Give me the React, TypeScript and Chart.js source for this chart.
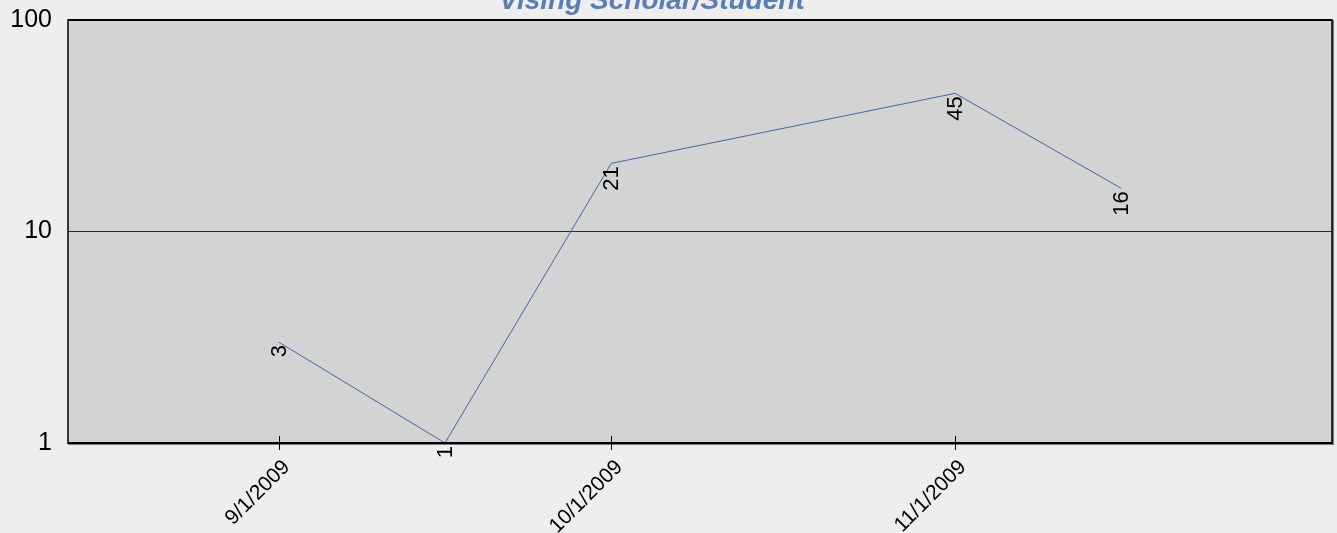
import React, { useEffect, useRef } from "react";
import { Chart, registerables } from "chart.js";

Chart.register(...registerables);

const titleText = "Vising Scholar/Student";
const pointDates = ["9/1/2009", "9/16/2009", "10/1/2009", "11/1/2009", "11/16/2009"];
const pointValues = [3, 1, 21, 45, 16];
const xTickDates = ["9/1/2009", "10/1/2009", "11/1/2009"];
const xRangeDates = ["8/13/2009", "12/5/2009"];
const yTickValues = [1, 10, 100];
const baseDate = "9/1/2009";

function parseDate(s: string): number {
  const [m, d, y] = s.split("/").map(Number);
  return Date.UTC(y, m - 1, d);
}
function dayOffset(s: string): number {
  return Math.round((parseDate(s) - parseDate(baseDate)) / 86400000);
}

const FONT = "'Liberation Sans', Arial, sans-serif";

const decorPlugin = {
  id: "decor",
  beforeDraw(chart: any) {
    const { ctx, chartArea: a, width, height } = chart;
    ctx.save();
    ctx.fillStyle = "#eeeeee";
    ctx.fillRect(0, 0, width, height);
    ctx.fillStyle = "#d3d3d3";
    ctx.fillRect(a.left, a.top, a.right - a.left, a.bottom - a.top);
    ctx.restore();
  },
  afterDraw(chart: any) {
    const { ctx, chartArea: a } = chart;
    const xs = chart.scales.x;
    const ys = chart.scales.y;
    ctx.save();
    // right / bottom shadow
    ctx.fillStyle = "#777777";
    ctx.fillRect(a.right, a.top, 2, a.bottom - a.top + 2);
    ctx.fillRect(a.left, a.bottom + 1, a.right - a.left + 2, 1);
    // borders
    ctx.strokeStyle = "#000000";
    ctx.lineWidth = 2;
    ctx.beginPath();
    ctx.moveTo(a.left, a.top);
    ctx.lineTo(a.right, a.top);
    ctx.moveTo(a.left, a.bottom);
    ctx.lineTo(a.right, a.bottom);
    ctx.stroke();
    ctx.lineWidth = 1.5;
    ctx.beginPath();
    ctx.moveTo(a.left, a.top - 1);
    ctx.lineTo(a.left, a.bottom + 1);
    ctx.moveTo(a.right, a.top - 1);
    ctx.lineTo(a.right, a.bottom + 1);
    ctx.stroke();
    // x tick marks crossing the axis
    ctx.lineWidth = 1;
    ctx.beginPath();
    xTickDates.forEach((d) => {
      const px = Math.round(xs.getPixelForValue(dayOffset(d))) + 0.5;
      ctx.moveTo(px, a.bottom - 7);
      ctx.lineTo(px, a.bottom + 7);
    });
    ctx.stroke();
    // data labels, rotated
    ctx.fillStyle = "#000000";
    ctx.font = `22px ${FONT}`;
    ctx.textAlign = "right";
    ctx.textBaseline = "middle";
    pointDates.forEach((d, i) => {
      const px = xs.getPixelForValue(dayOffset(d));
      const py = ys.getPixelForValue(pointValues[i]);
      ctx.save();
      ctx.translate(px + 1, py + 3);
      ctx.rotate(-Math.PI / 2);
      ctx.fillText(String(pointValues[i]), 0, 0);
      ctx.restore();
    });
    // title (partially above the canvas)
    ctx.fillStyle = "#5b7db6";
    ctx.font = `italic bold 28px ${FONT}`;
    ctx.textAlign = "center";
    ctx.textBaseline = "alphabetic";
    ctx.fillText(titleText, 652, 9);
    ctx.restore();
  },
};

export default function App() {
  const ref = useRef<HTMLCanvasElement>(null);
  useEffect(() => {
    if (!ref.current) return;
    const chart = new Chart(ref.current, {
      type: "line",
      data: {
        datasets: [
          {
            data: pointDates.map((d, i) => ({ x: dayOffset(d), y: pointValues[i] })),
            borderColor: "#3f69a8",
            borderWidth: 1,
            pointRadius: 0,
            fill: false,
            tension: 0,
            clip: false,
          } as any,
        ],
      },
      options: {
        animation: false,
        responsive: false,
        devicePixelRatio: 1,
        layout: { padding: { top: 20, right: 5, left: 0, bottom: 0 } },
        plugins: { legend: { display: false }, tooltip: { enabled: false }, title: { display: false } },
        scales: {
          x: {
            type: "linear",
            min: dayOffset(xRangeDates[0]),
            max: dayOffset(xRangeDates[1]),
            afterBuildTicks: (s: any) => {
              s.ticks = xTickDates.map((d) => ({ value: dayOffset(d) }));
            },
            afterFit: (s: any) => {
              s.height = 90;
              s.paddingLeft = 0;
              s.paddingRight = 0;
            },
            grid: { display: false, drawTicks: false },
            border: { display: false },
            ticks: {
              autoSkip: false,
              minRotation: 45,
              maxRotation: 45,
              padding: 12,
              labelOffset: 8,
              color: "#000000",
              font: { size: 21, family: FONT },
              callback: (v: any) => {
                const idx = xTickDates.findIndex((d) => dayOffset(d) === v);
                return idx >= 0 ? xTickDates[idx] : "";
              },
            },
          },
          y: {
            type: "logarithmic",
            min: 1,
            max: 100,
            afterBuildTicks: (s: any) => {
              s.ticks = yTickValues.map((v) => ({ value: v }));
            },
            afterFit: (s: any) => {
              s.width = 68;
              s.paddingTop = 0;
              s.paddingBottom = 0;
            },
            grid: {
              drawTicks: false,
              color: (c: any) => (c.tick && c.tick.value === 10 ? "#2a2a2a" : "rgba(0,0,0,0)"),
              lineWidth: 1,
            },
            border: { display: false },
            ticks: {
              padding: 16,
              color: "#000000",
              font: { size: 25, family: FONT },
              callback: (v: any) => String(v),
            },
          },
        },
      },
      plugins: [decorPlugin],
    });
    return () => chart.destroy();
  }, []);
  return (
    <div style={{ position: "fixed", left: 0, top: 0, width: 1337, height: 533, background: "#eeeeee" }}>
      <canvas ref={ref} width={1337} height={533} style={{ width: 1337, height: 533, display: "block" }} />
    </div>
  );
}
